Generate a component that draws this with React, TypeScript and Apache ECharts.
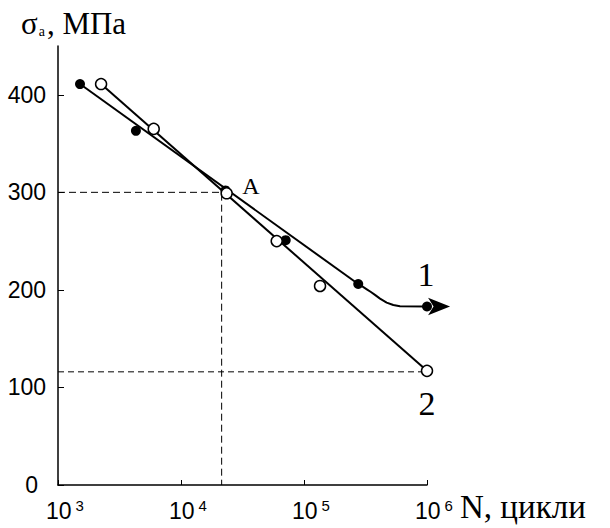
import React, { useEffect, useRef } from "react";
import * as echarts from "echarts";

// ---- data ----
const xExponents = [3, 4, 5, 6];
const yTicks = [0, 100, 200, 300, 400];

// series 1 (filled circles)
const series1N = [1510, 4300, 23000, 71000, 276000, 1000000];
const series1S = [411, 363, 302, 251, 206, 183];
// series 2 (open circles)
const series2N = [2240, 6000, 23500, 60000, 135000, 1000000];
const series2S = [411, 365, 299, 250, 204, 117];

// fitted curve 1: straight part
const fit1LineN = [1510, 276000];
const fit1LineS = [411, 206];
// fitted curve 1: bend to horizontal
const fit1BendN = [276000, 300000, 324000, 350000, 380000, 415000, 470000, 532000, 603000, 1000000];
const fit1BendS = [206, 203.3, 200.6, 197.8, 194.6, 191, 187, 184.5, 183.3, 183];
// fitted line 2
const fit2N = [2240, 1000000];
const fit2S = [411, 117];
// arrow continuation of curve 1
const arrowN = [1000000, 1540000];
const arrowS = [183, 183];

// guide lines
const guideAN = [1000, 21400, 21400];
const guideAS = [300, 300, 0];
const guideBN = [1000, 1000000];
const guideBS = [116, 116];

// annotations
const labelNames = ["A", "1", "2"];
const labelN = [37000, 980000, 1000000];
const labelS = [306, 216, 84];

const toPairs = (xs: number[], ys: number[]) => xs.map((x, i) => [x, ys[i]]);

export default function App() {
  const ref = useRef<HTMLDivElement>(null);

  useEffect(() => {
    if (!ref.current) return;
    const chart = echarts.init(ref.current, undefined, { renderer: "svg" });
    const black = "#000";
    const serif = "Liberation Serif";
    const sans = "Liberation Sans";

    const lineBase = {
      type: "line" as const,
      symbol: "none",
      silent: true,
      z: 2,
    };

    chart.setOption({
      animation: false,
      backgroundColor: "#fff",
      title: {
        text: "{m|σ}{s|a}{m|, МПа}",
        left: 21,
        top: 8,
        padding: 0,
        textStyle: {
          fontWeight: "normal",
          rich: {
            m: { fontFamily: serif, fontSize: 31, lineHeight: 30, fontWeight: "normal", color: black },
            s: {
              fontFamily: serif,
              fontSize: 14,
              lineHeight: 14,
              fontWeight: "normal",
              color: black,
              verticalAlign: "bottom",
              padding: [0, 2, 0, 1],
            },
          },
        },
      },
      grid: { left: 58, right: 183, top: 46, bottom: 43 },
      xAxis: {
        type: "log",
        logBase: 10,
        min: 1000,
        max: 1000000,
        name: "N, цикли",
        nameLocation: "end",
        nameGap: 33,
        nameTextStyle: {
          fontFamily: serif,
          fontSize: 33,
          color: black,
          verticalAlign: "top",
          padding: [5, 0, 0, 0],
        },
        axisLine: { show: true, lineStyle: { color: black, width: 1.5 } },
        axisTick: { show: true, inside: true, length: 5, lineStyle: { color: black, width: 1 } },
        splitLine: { show: false },
        axisLabel: {
          margin: 14,
          padding: [0, 0, 0, 14],
          formatter: (v: number) => {
            const e = Math.round(Math.log10(v));
            const exp = xExponents.find((x) => x === e) ?? e;
            return `{b|10}{s|${exp}}`;
          },
          rich: {
            b: { fontFamily: sans, fontSize: 23, lineHeight: 23, color: black, verticalAlign: "bottom" },
            s: {
              fontFamily: sans,
              fontSize: 15,
              lineHeight: 15,
              color: black,
              verticalAlign: "bottom",
              padding: [0, 0, 9, 4],
            },
          },
        },
      },
      yAxis: {
        type: "value",
        min: 0,
        max: 450,
        axisLine: { show: true, lineStyle: { color: black, width: 1.5 } },
        axisTick: {
          show: true,
          inside: true,
          length: 6,
          customValues: yTicks,
          lineStyle: { color: black, width: 1 },
        },
        splitLine: { show: false },
        axisLabel: {
          customValues: yTicks,
          margin: 12,
          fontFamily: sans,
          fontSize: 23,
          color: black,
          formatter: (v: number) => (v === 0 ? "{z|0}" : String(v)),
          rich: {
            z: { fontFamily: sans, fontSize: 23, color: black, padding: [0, 8, 0, 0] },
          },
        },
      },
      series: [
        {
          ...lineBase,
          name: "guideA",
          data: toPairs(guideAN, guideAS),
          lineStyle: { color: black, width: 1, type: [7, 4] },
          z: 1,
        },
        {
          ...lineBase,
          name: "guideB",
          data: toPairs(guideBN, guideBS),
          lineStyle: { color: black, width: 1, type: [6, 4] },
          z: 1,
        },
        {
          ...lineBase,
          name: "fit1",
          data: toPairs(fit1LineN, fit1LineS),
          lineStyle: { color: black, width: 2 },
        },
        {
          ...lineBase,
          name: "fit1bend",
          data: toPairs(fit1BendN, fit1BendS),
          lineStyle: { color: black, width: 2, join: "round", cap: "round" },
        },
        {
          ...lineBase,
          name: "fit2",
          data: toPairs(fit2N, fit2S),
          lineStyle: { color: black, width: 2 },
        },
        {
          type: "line",
          name: "arrow",
          clip: false,
          silent: true,
          z: 2,
          data: arrowN.map((n, i) =>
            i === arrowN.length - 1
              ? { value: [n, arrowS[i]], symbol: "arrow", symbolSize: [13, 22], symbolRotate: -90 }
              : { value: [n, arrowS[i]], symbol: "none" }
          ),
          itemStyle: { color: black, opacity: 1 },
          lineStyle: { color: black, width: 1.2, type: [4, 3] },
        },
        {
          type: "scatter",
          name: "1",
          symbol: "circle",
          symbolSize: 10,
          z: 3,
          data: toPairs(series1N, series1S),
          itemStyle: { color: black, opacity: 1 },
        },
        {
          type: "scatter",
          name: "2",
          symbol: "circle",
          symbolSize: 11,
          z: 4,
          data: toPairs(series2N, series2S),
          itemStyle: { color: "#fff", borderColor: black, borderWidth: 1.5, opacity: 1 },
        },
        {
          type: "scatter",
          name: "labels",
          symbolSize: 1,
          silent: true,
          z: 5,
          itemStyle: { color: "rgba(0,0,0,0)", opacity: 1 },
          data: labelNames.map((name, i) => ({
            name,
            value: [labelN[i], labelS[i]],
            label: { fontSize: i === 0 ? 24 : 34 },
          })),
          label: {
            show: true,
            position: "inside",
            formatter: "{b}",
            fontFamily: serif,
            color: black,
            opacity: 1,
            textBorderWidth: 0,
          },
        },
      ],
    });

    return () => chart.dispose();
  }, []);

  return (
    <div
      ref={ref}
      style={{ position: "fixed", left: 0, top: 0, width: 610, height: 528, background: "#fff" }}
    />
  );
}
